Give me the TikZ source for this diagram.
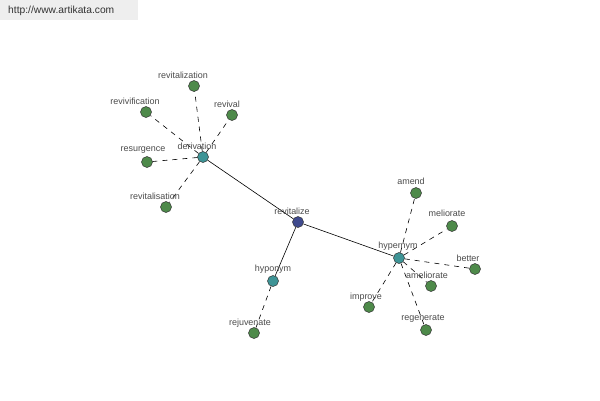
\documentclass[tikz,border=0pt]{standalone}
\usepackage{fontspec}
\setmainfont{Liberation Sans}
\begin{document}
\begin{tikzpicture}[x=1bp,y=-1bp,
  dot/.style={circle,draw=black!80,line width=0.5bp,minimum size=11bp,inner sep=0pt},
  leaf/.style={dot,fill=leafgreen},
  hub/.style={dot,fill=hubteal},
  root/.style={dot,fill=rootblue},
  lbl/.style={font=\fontsize{9}{10}\selectfont,text=black!70,inner sep=0pt},
  solidedge/.style={draw=black,line width=0.6bp},
  dashedge/.style={draw=black,line width=0.6bp,dash pattern=on 5bp off 5bp}]
\definecolor{leafgreen}{HTML}{4E8A4A}
\definecolor{hubteal}{HTML}{3E9496}
\definecolor{rootblue}{HTML}{3F4A8E}
\definecolor{bannergray}{HTML}{EEEEEE}
\useasboundingbox (0,0) rectangle (600,400);
\fill[white] (0,0) rectangle (600,400);
\fill[bannergray] (0,0) rectangle (138,20);
\node[anchor=west,font=\fontsize{10.3}{12}\selectfont,text=black!80,inner sep=0pt] (url) at (8,11) {http://www.artikata.com};
% nodes
\node[root] (revitalize) at (298,222) {};
\node[hub] (derivation) at (203,157) {};
\node[hub] (hypernym) at (399,258) {};
\node[hub] (hyponym) at (273,281) {};
\node[leaf] (revitalization) at (194,86) {};
\node[leaf] (revivification) at (146,112) {};
\node[leaf] (revival) at (232,115) {};
\node[leaf] (resurgence) at (147,162) {};
\node[leaf] (revitalisation) at (166,207) {};
\node[leaf] (rejuvenate) at (254,333) {};
\node[leaf] (amend) at (416,193) {};
\node[leaf] (meliorate) at (452,226) {};
\node[leaf] (better) at (475,269) {};
\node[leaf] (ameliorate) at (431,286) {};
\node[leaf] (improve) at (369,307) {};
\node[leaf] (regenerate) at (426,330) {};
% edges
\path[solidedge] (revitalize) -- (derivation);
\path[solidedge] (revitalize) -- (hypernym);
\path[solidedge] (revitalize) -- (hyponym);
\foreach \n in {revitalization,revivification,revival,resurgence,revitalisation}
  \path[dashedge] (derivation) -- (\n);
\foreach \n in {amend,meliorate,better,ameliorate,improve,regenerate}
  \path[dashedge] (hypernym) -- (\n);
\path[dashedge] (hyponym) -- (rejuvenate);
% labels
\node[lbl] (l-revitalize) at (292,211) {revitalize};
\node[lbl] (l-derivation) at (197,146) {derivation};
\node[lbl] (l-hypernym) at (398,246) {hypernym};
\node[lbl] (l-hyponym) at (273,269) {hyponym};
\node[lbl] (l-revitalization) at (183,75) {revitalization};
\node[lbl] (l-revivification) at (135,101) {revivification};
\node[lbl] (l-revival) at (227,104) {revival};
\node[lbl] (l-resurgence) at (143,150) {resurgence};
\node[lbl] (l-revitalisation) at (155,196) {revitalisation};
\node[lbl] (l-rejuvenate) at (250,323) {rejuvenate};
\node[lbl] (l-amend) at (411,181) {amend};
\node[lbl] (l-meliorate) at (447,213) {meliorate};
\node[lbl] (l-better) at (468,258) {better};
\node[lbl] (l-ameliorate) at (427,275) {ameliorate};
\node[lbl] (l-improve) at (366,297) {improve};
\node[lbl] (l-regenerate) at (423,319) {regenerate};
\end{tikzpicture}
\end{document}
